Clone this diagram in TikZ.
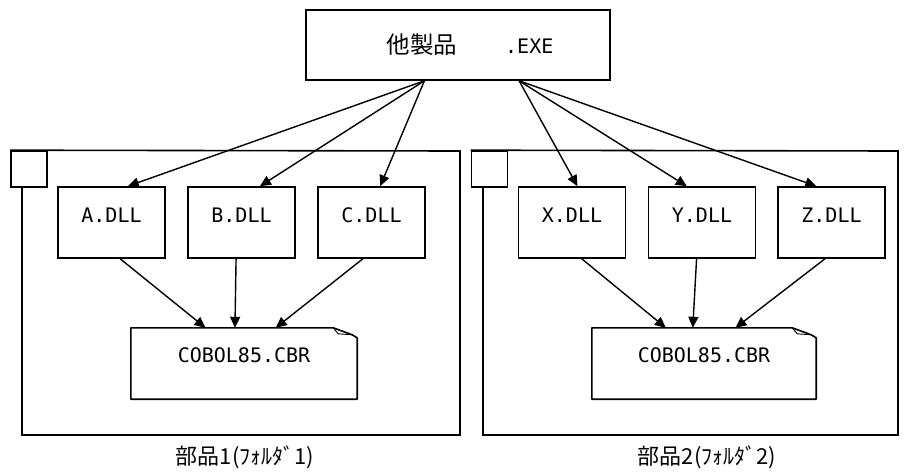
\documentclass[tikz,border=0pt]{standalone}
\usepackage{fontspec}
\newfontfamily\cjk{Noto Sans CJK JP}
\newfontfamily\monofnt{DejaVu Sans Mono}
\usetikzlibrary{arrows.meta,calc}
\tikzset{
  box/.style={draw,line width=1.6pt,rectangle,inner sep=0pt},
  monotext/.style={font=\monofnt\fontsize{20}{20}\selectfont},
  dll/.style={box,minimum width=107pt,minimum height=71pt,monotext},
  arr/.style={line width=1.4pt,-{Triangle[length=11pt,width=10pt]}},
  frame/.style={line width=1.6pt},
  lbl/.style={font=\cjk\fontsize{22}{22}\selectfont,inner sep=0pt}
}
\begin{document}
\begin{tikzpicture}[x=1pt,y=-1pt]
\useasboundingbox[fill=white] (0,0) rectangle (909,472);
% top box
\node[box,minimum width=304pt,minimum height=70pt] (top) at (458,45) {};
\node[inner sep=0pt] (toptext) at (470,45) {{\cjk\fontsize{23.5}{23.5}\selectfont 他製品}\hspace{48pt}{\monofnt\fontsize{20}{20}\selectfont .EXE}};
% folders
\node[box,minimum width=36pt,minimum height=36pt] (tabL) at (29,169) {};
\draw[frame] (tabL.north west) -- (460,151) -- (460,435) -- (22,435) -- (22,187);
\node[box,minimum width=36pt,minimum height=36pt] (tabR) at (489.5,169) {};
\draw[frame] (tabR.north west) -- (898,151) -- (898,435) -- (483,435) -- (483,187);
% dll boxes
\node[dll] (A) at (111.5,222.5) {\raisebox{14pt}{A.DLL}};
\node[dll] (B) at (241.5,222.5) {\raisebox{14pt}{B.DLL}};
\node[dll] (C) at (371.5,222.5) {\raisebox{14pt}{C.DLL}};
\node[dll] (X) at (572,222.5) {\raisebox{14pt}{X.DLL}};
\node[dll] (Y) at (702,222.5) {\raisebox{14pt}{Y.DLL}};
\node[dll] (Z) at (831.5,222.5) {\raisebox{14pt}{Z.DLL}};
% cobol files
\node[minimum width=226pt,minimum height=71pt,inner sep=0pt] (cobL) at (244,363.5) {};
\node[minimum width=224pt,minimum height=71pt,inner sep=0pt] (cobR) at (704,363.5) {};
\foreach \n in {cobL,cobR}{
  \draw[frame,line join=round] (\n.north west) -- ($(\n.north east)+(-24,0)$) -- ($(\n.north east)+(-5,7)$) -- ($(\n.north east)+(0,10)$) -- (\n.south east) -- (\n.south west) -- cycle;
  \draw[line width=0.9pt] ($(\n.north east)+(-24,0)$) -- ($(\n.north east)+(-19,6)$) -- ($(\n.north east)+(-5,7)$);
}
\node[monotext,inner sep=0pt] (cobLt) at ($(cobL.north)+(0,27)$) {COBOL85.CBR};
\node[monotext,inner sep=0pt] (cobRt) at ($(cobR.north)+(0,27)$) {COBOL85.CBR};
% arrows top -> dll
\draw[arr] ($(top.south west)!0.39!(top.south east)$) -- ($(A.north west)!0.65!(A.north east)$);
\draw[arr] ($(top.south west)!0.39!(top.south east)$) -- ($(B.north west)!0.67!(B.north east)$);
\draw[arr] ($(top.south west)!0.39!(top.south east)$) -- ($(C.north west)!0.58!(C.north east)$);
\draw[arr] ($(top.south west)!0.70!(top.south east)$) -- ($(X.north west)!0.55!(X.north east)$);
\draw[arr] ($(top.south west)!0.70!(top.south east)$) -- ($(Y.north west)!0.36!(Y.north east)$);
\draw[arr] ($(top.south west)!0.70!(top.south east)$) -- ($(Z.north west)!0.36!(Z.north east)$);
% arrows dll -> cobol
\draw[arr] ($(A.south west)!0.58!(A.south east)$) -- ($(cobL.north west)!0.33!(cobL.north east)$);
\draw[arr] ($(B.south west)!0.45!(B.south east)$) -- ($(cobL.north west)!0.46!(cobL.north east)$);
\draw[arr] ($(C.south west)!0.42!(C.south east)$) -- ($(cobL.north west)!0.64!(cobL.north east)$);
\draw[arr] ($(X.south west)!0.59!(X.south east)$) -- ($(cobR.north west)!0.33!(cobR.north east)$);
\draw[arr] ($(Y.south west)!0.45!(Y.south east)$) -- ($(cobR.north west)!0.45!(cobR.north east)$);
\draw[arr] ($(Z.south west)!0.44!(Z.south east)$) -- ($(cobR.north west)!0.64!(cobR.north east)$);
% folder labels
\node[lbl] (labL) at (245,457) {部品1(ﾌｫﾙﾀﾞ1)};
\node[lbl] (labR) at (707,457) {部品2(ﾌｫﾙﾀﾞ2)};
\end{tikzpicture}
\end{document}
